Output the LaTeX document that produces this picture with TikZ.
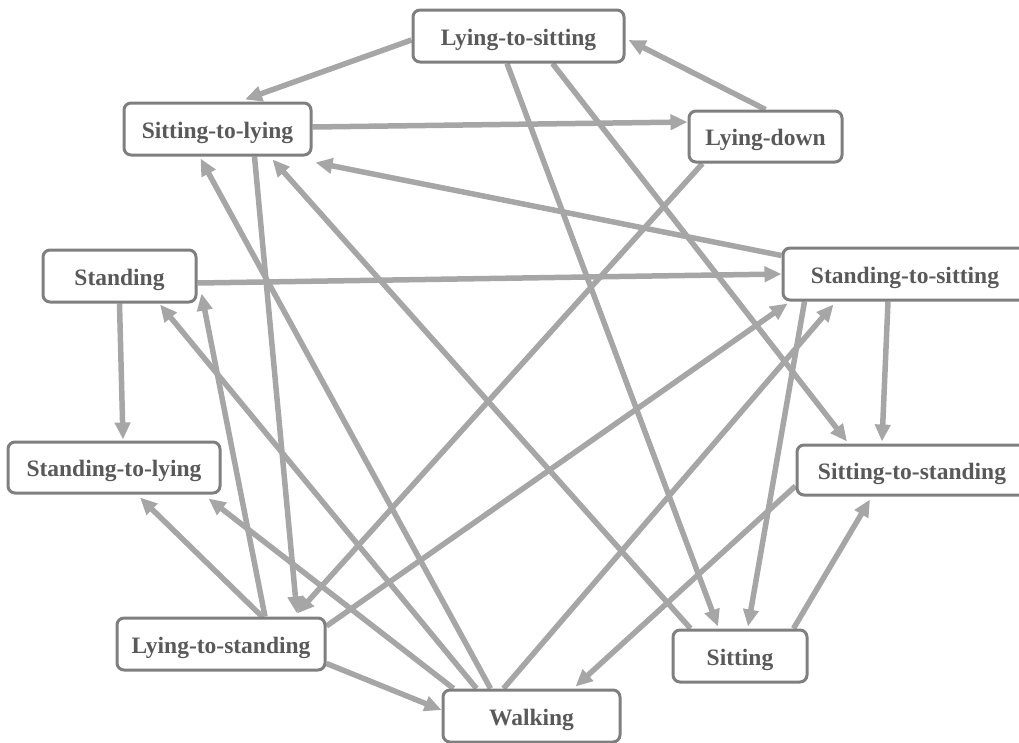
\documentclass[tikz,border=0pt]{standalone}
\usepackage{fontspec}
\setmainfont{Liberation Serif}
\usetikzlibrary{arrows.meta,backgrounds}
\definecolor{edgegray}{HTML}{A6A6A6}
\definecolor{boxgray}{HTML}{7F7F7F}
\definecolor{textgray}{HTML}{595959}
\begin{document}
\begin{tikzpicture}[x=1pt,y=-1pt,
  state/.style={draw=boxgray, line width=3pt, rounded corners=7pt, fill=white,
    text=textgray, font=\fontsize{23.5}{28}\selectfont\bfseries,
    inner sep=0pt, text height=23pt, text depth=5pt, minimum height=52pt},
  edge/.style={draw=edgegray, line width=5.5pt, -{Triangle[length=17pt,width=15pt]}}]
\useasboundingbox (0,0) rectangle (1019,742);
\node[state, minimum width=211pt] (LtS) at (518.5,36) {Lying-to-sitting};
\node[state, minimum width=187pt] (StL) at (217.5,129) {Sitting-to-lying};
\node[state, minimum width=153pt, minimum height=51pt] (LD) at (765.5,136.5) {Lying-down};
\node[state, minimum width=153pt] (St) at (119.5,276) {Standing};
\node[state, minimum width=244pt] (StSi) at (905,274) {Standing-to-sitting};
\node[state, minimum width=212pt, minimum height=51pt] (StLy) at (114,467.5) {Standing-to-lying};
\node[state, minimum width=230pt, minimum height=50pt] (SiSt) at (912,470) {Sitting-to-standing};
\node[state, minimum width=208pt] (LtSt) at (221,644) {Lying-to-standing};
\node[state, minimum width=177pt] (W) at (531.5,716) {Walking};
\node[state, minimum width=134pt] (Si) at (740,656) {Sitting};
\begin{pgfonlayer}{background}
\draw[edge] ([yshift=-4pt]LtS.west) -- ([xshift=27.5pt,yshift=2pt]StL.north);
\draw[edge] (LD.north) -- ([xshift=3pt,yshift=-4pt]LtS.east);
\draw[edge] ([yshift=2pt]StL.east) -- ([yshift=14.5pt]LD.west);
\draw[edge] ([yshift=-9pt]StSi.north west) -- ([xshift=3pt,yshift=-6pt]StL.south east);
\draw[edge] ([yshift=-7pt]St.east) -- (StSi.west);
\draw[edge] ([xshift=-11.5pt]LtS.south) -- ([xshift=-22pt,yshift=2pt]Si.north);
\draw[edge] ([xshift=34pt]LtS.south) -- ([xshift=-65pt,yshift=2pt]SiSt.north);
\draw[edge] ([xshift=-63pt]LD.south) -- ([xshift=76pt,yshift=3pt]LtSt.north);
\draw[edge] ([xshift=37pt]StL.south) -- ([xshift=76pt,yshift=3pt]LtSt.north);
\draw[edge] ([xshift=49pt]W.north west) -- ([xshift=78pt,yshift=-2pt]StL.south west);
\draw[edge] ([xshift=19pt]Si.north west) -- ([xshift=55pt,yshift=-3pt]StL.south);
\draw[edge] ([xshift=44pt]LtSt.north) -- ([xshift=4pt,yshift=10pt]St.south east);
\draw[edge] ([xshift=35pt]W.north west) -- ([xshift=40.5pt,yshift=-1pt]St.south);
\draw[edge] (St.south) -- ([xshift=9pt,yshift=1pt]StLy.north);
\draw[edge] ([xshift=41pt]LtSt.north) -- ([xshift=26pt,yshift=-3pt]StLy.south);
\draw[edge] ([xshift=12pt]W.north west) -- ([xshift=-13pt,yshift=-4pt]StLy.south east);
\draw[edge] ([yshift=8pt]LtSt.south east) -- ([yshift=6pt]W.west);
\draw[edge] ([yshift=18pt]LtSt.east) -- ([xshift=6pt,yshift=-2pt]StSi.south west);
\draw[edge] ([xshift=62pt]W.north west) -- ([xshift=52pt,yshift=-3pt]StSi.south west);
\draw[edge] ([xshift=23pt]StSi.south west) -- ([xshift=8pt,yshift=2pt]Si.north);
\draw[edge] ([xshift=-17pt]StSi.south) -- ([xshift=-30pt,yshift=2pt]SiSt.north);
\draw[edge] ([yshift=-16pt]SiSt.west) -- ([xshift=44pt,yshift=2pt]W.north);
\draw[edge] ([xshift=-15pt]Si.north east) -- ([xshift=-42pt,yshift=-3pt]SiSt.south);
\end{pgfonlayer}
\end{tikzpicture}
\end{document}
